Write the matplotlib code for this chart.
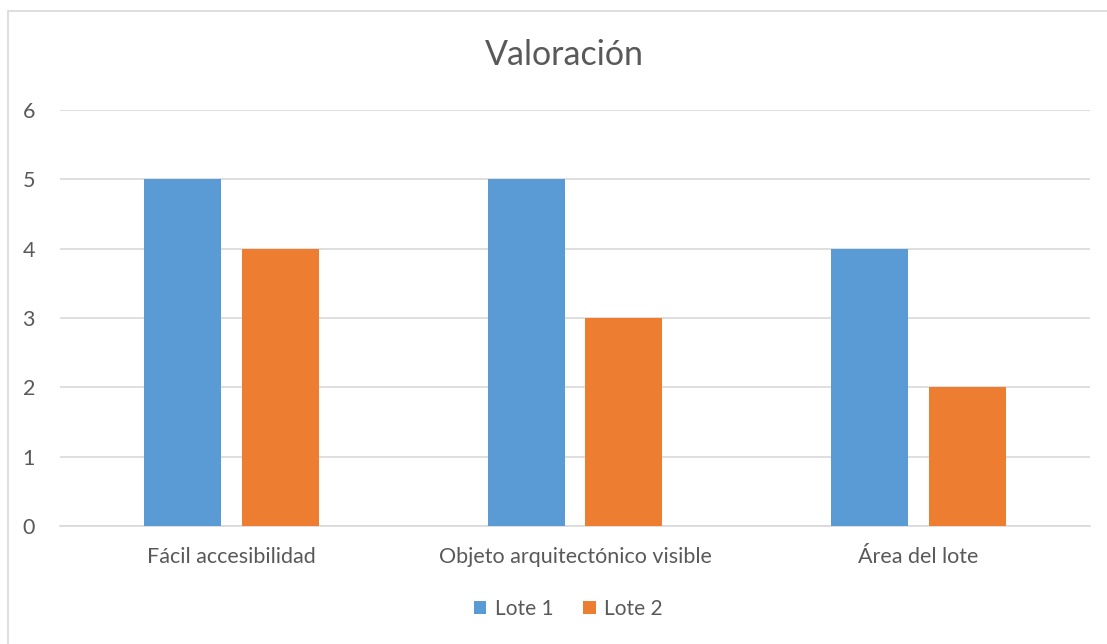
import matplotlib
matplotlib.use("Agg")
import matplotlib.pyplot as plt
import matplotlib.patches as mpatches
import numpy as np

plt.rcParams["font.family"] = ["Lato", "DejaVu Sans"]

categories = ["Fácil accesibilidad", "Objeto arquitectónico visible", "Área del lote"]
lote1 = [5, 5, 4]
lote2 = [4, 3, 2]
series_names = ["Lote 1", "Lote 2"]
colors = ["#5B9BD5", "#ED7D31"]
text_color = "#595959"

W, H = 1107, 644
fig = plt.figure(figsize=(W / 100, H / 100), dpi=100)

# borde del gráfico
fig.patches.append(mpatches.Rectangle((8 / W, -0.1), 1.2, 1 - 11 / H + 0.1,
                                      transform=fig.transFigure, fill=False,
                                      edgecolor="#D9D9D9", linewidth=1.2))

ax = fig.add_axes([60 / W, 1 - 526 / H, 1030 / W, 416 / H])
x = np.arange(len(categories))
w = 0.224
ax.bar(x - 0.142, lote1, width=w, color=colors[0], label=series_names[0], zorder=3)
ax.bar(x + 0.142, lote2, width=w, color=colors[1], label=series_names[1], zorder=3)

ax.set_xlim(-0.5, len(categories) - 0.5)
ax.set_ylim(0, 6)
ax.set_yticks(range(0, 7))
ax.set_xticks(x)
ax.set_xticklabels(categories)
ax.tick_params(axis="both", length=0, labelsize=15.5, colors=text_color)
ax.tick_params(axis="x", pad=15)
ax.tick_params(axis="y", pad=18)

ax.grid(axis="y", color="#D9D9D9", linewidth=1.2, zorder=0)
for s in ["top", "right", "left"]:
    ax.spines[s].set_visible(False)
ax.spines["bottom"].set_color("#D9D9D9")
ax.spines["bottom"].set_linewidth(1.2)

fig.text(564 / W, 1 - 55 / H, "Valoración", ha="center", va="center",
         fontsize=24.5, color=text_color)

leg = fig.legend(loc="center", bbox_to_anchor=(568 / W, 1 - 609 / H), ncol=2,
                 frameon=False, fontsize=15, handlelength=0.62, handleheight=0.62,
                 handletextpad=0.4, columnspacing=1.4)
for t in leg.get_texts():
    t.set_color(text_color)

fig.savefig("out.png", dpi=100, facecolor="white")
